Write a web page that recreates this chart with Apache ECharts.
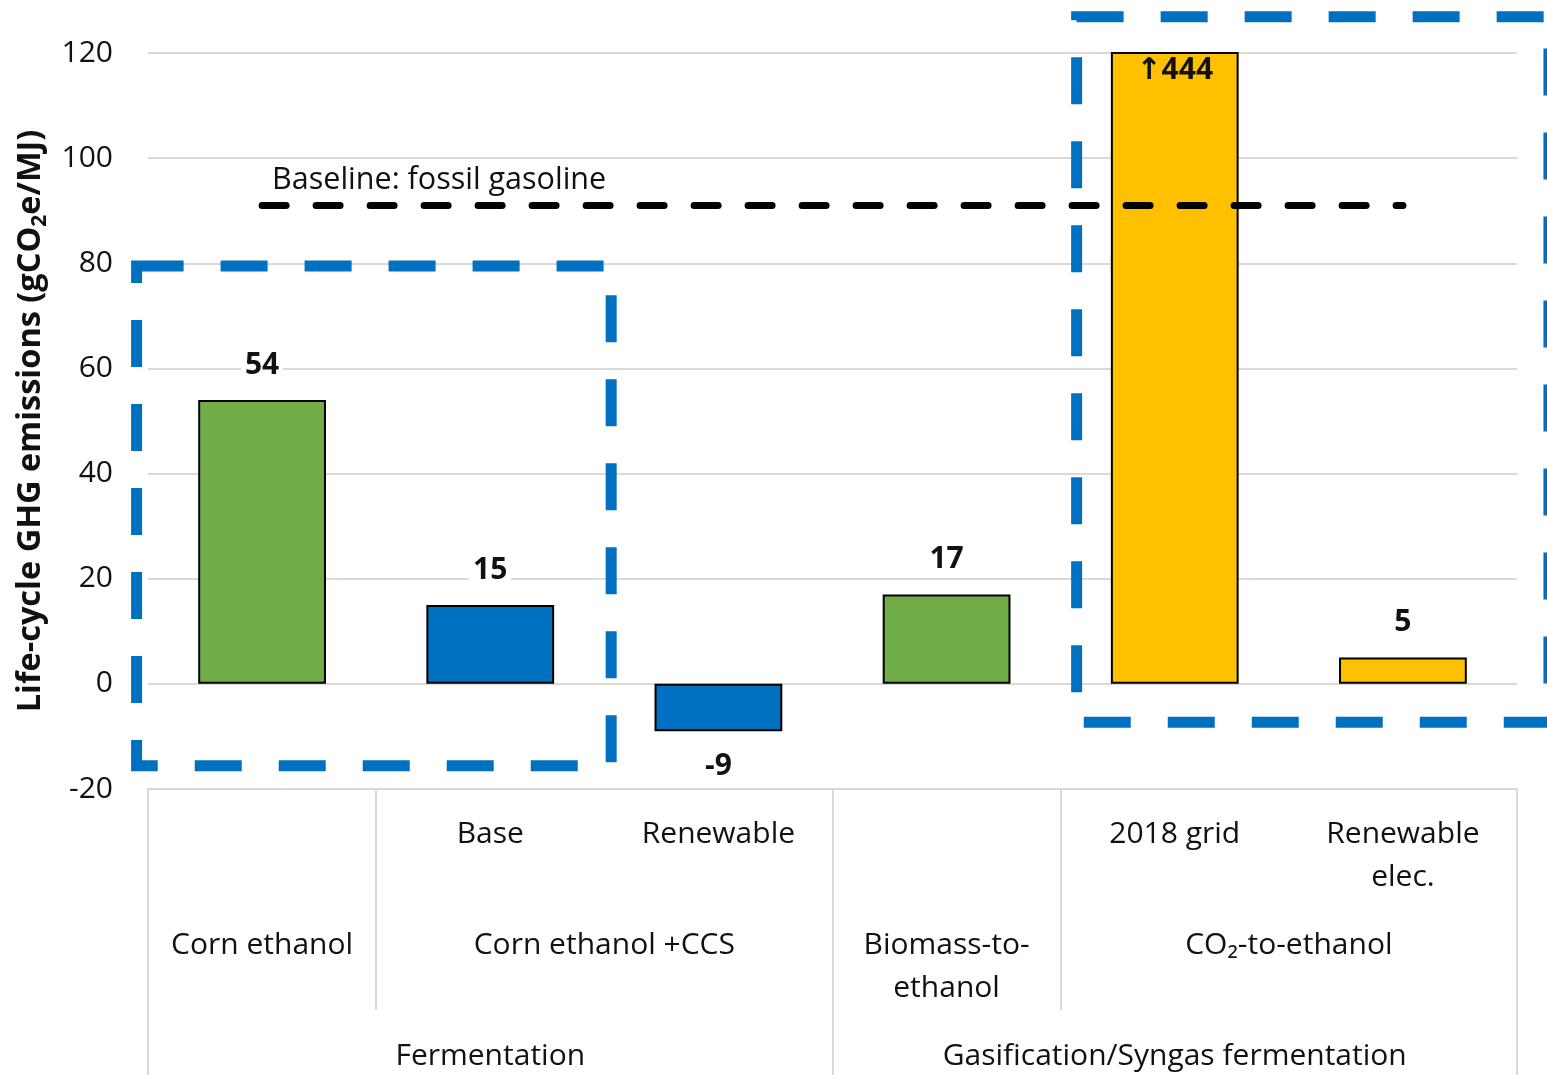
<!DOCTYPE html>
<html>
<head>
<meta charset="utf-8">
<script src="https://cdn.jsdelivr.net/npm/echarts@6/dist/echarts.min.js"></script>
<style>
  html, body { margin: 0; padding: 0; background: #fff; }
  #chart { width: 1547px; height: 1075px; }
</style>
</head>
<body>
<div id="chart"></div>
<script>
// Life-cycle GHG emissions of ethanol pathways (gCO2e/MJ)
const variantLabels = ['', 'Base', 'Renewable', '', '2018 grid', 'Renewable\nelec.'];
const emissions = [54, 15, -9, 17, 444, 5];
const pathwayLabels = ['Corn ethanol', 'Corn ethanol +CCS', 'Biomass-to-\nethanol', 'CO\u2082-to-ethanol'];
const pathwaySpans = [1, 2, 1, 2];
const routeLabels = ['Fermentation', 'Gasification/Syngas fermentation'];
const routeSpans = [3, 3];
const baselineValue = 91;
const baselineLabel = 'Baseline: fossil gasoline';
const yMin = -20, yMax = 120, yStep = 20;

// Bar fill per pathway family
const barColors = ['#70AD47', '#0070C0', '#0070C0', '#70AD47', '#FFC000', '#FFC000'];

const FONT = '"Open Sans", "DejaVu Sans", sans-serif';
const TEXT = '#111';
const GRIDLINE = '#d9d9d9';

// Lay a grouped level out on a half-category grid (boundaryGap false):
// labels sit at the middle of their span, boundaries at even slots.
function spanLevel(labels, spans) {
  const total = spans.reduce((a, b) => a + b, 0);
  const slots = new Array(total * 2 + 1).fill('');
  const bounds = new Set([0]);
  let start = 0;
  labels.forEach((l, i) => {
    slots[start * 2 + spans[i]] = l;
    start += spans[i];
    bounds.add(start * 2);
  });
  return { slots, bounds };
}
const pathwayLevel = spanLevel(pathwayLabels, pathwaySpans);
const routeLevel = spanLevel(routeLabels, routeSpans);
const shortSeparators = new Set([...pathwayLevel.bounds].filter(b => !routeLevel.bounds.has(b)));

const baseLabel = {
  fontFamily: FONT, fontSize: 30, color: TEXT, lineHeight: 43
};

function groupAxis(level, margin, tickSet, tickLen) {
  return {
    type: 'category',
    gridIndex: 0,
    position: 'bottom',
    boundaryGap: false,
    data: level.slots.map((_, i) => 'slot' + i),
    axisLine: { show: false, onZero: false },
    axisTick: {
      show: true,
      length: tickLen,
      interval: (idx) => tickSet.has(idx),
      lineStyle: { color: GRIDLINE, width: 2 }
    },
    axisLabel: Object.assign({}, baseLabel, {
      interval: 0,
      margin: margin,
      formatter: (v, i) => level.slots[i]
    }),
    splitLine: { show: false }
  };
}

const chart = echarts.init(document.getElementById('chart'), null, { renderer: 'canvas' });

const option = {
  backgroundColor: '#fff',
  animation: false,
  grid: {
    left: 148, right: 30, top: 53, bottom: 286,
    containLabel: false, outerBoundsMode: 'none'
  },
  xAxis: [
    {
      type: 'category',
      gridIndex: 0,
      position: 'bottom',
      data: variantLabels.map((_, i) => 'cat' + i),
      axisLine: { show: true, onZero: false, lineStyle: { color: GRIDLINE, width: 2 } },
      axisTick: { show: false },
      axisLabel: Object.assign({}, baseLabel, {
        interval: 0,
        margin: 24,
        formatter: (v, i) => variantLabels[i]
      }),
      splitLine: { show: false }
    },
    groupAxis(pathwayLevel, 135, shortSeparators, 221),
    groupAxis(routeLevel, 246, routeLevel.bounds, 286)
  ],
  yAxis: {
    type: 'value',
    min: yMin, max: yMax, interval: yStep,
    name: '{t|Life-cycle GHG emissions (gCO}{s|2}{t|e/MJ)}',
    nameLocation: 'middle',
    nameGap: 96,
    nameRotate: 90,
    nameTextStyle: {
      rich: {
        t: { fontFamily: FONT, fontSize: 32.5, fontWeight: 'bold', color: TEXT, lineHeight: 40 },
        s: { fontFamily: FONT, fontSize: 21, fontWeight: 'bold', color: TEXT, lineHeight: 30, verticalAlign: 'bottom' }
      }
    },
    axisLine: { show: false },
    axisTick: { show: false },
    axisLabel: { fontFamily: FONT, fontSize: 30, color: TEXT, margin: 35 },
    splitLine: { show: true, lineStyle: { color: GRIDLINE, width: 2 } }
  },
  series: [{
    type: 'bar',
    xAxisIndex: 0,
    barWidth: '56%',
    clip: true,
    data: emissions.map((v, i) => ({
      value: v,
      itemStyle: { color: barColors[i] },
      label: v > yMax
        ? { position: 'insideTop', distance: 3, formatter: '\u2191{c}', backgroundColor: 'transparent', padding: 0 }
        : { position: v >= 0 ? 'top' : 'bottom' }
    })),
    itemStyle: { borderColor: '#000', borderWidth: 2 },
    label: {
      show: true,
      fontFamily: FONT, fontSize: 30, fontWeight: 'bold', color: TEXT,
      distance: 20,
      backgroundColor: '#fff',
      padding: [0, 4]
    },
    markLine: {
      silent: true,
      symbol: ['none', 'none'],
      lineStyle: { color: '#000', width: 7, type: [24, 30], cap: 'round' },
      label: {
        show: true,
        position: 'insideStartTop',
        distance: [10, 10],
        formatter: baselineLabel,
        fontFamily: FONT, fontSize: 30.5, color: TEXT
      },
      data: [[{ coord: ['cat0', baselineValue] }, { coord: ['cat5', baselineValue] }]]
    }
  }]
};

chart.setOption(option);

// Dashed outlines grouping the CCS comparison and the CO2-to-ethanol pair.
// Corners are given in category units (x) and axis values (y).
const x0 = chart.convertToPixel({ xAxisIndex: 0 }, 'cat0');
const band = chart.convertToPixel({ xAxisIndex: 0 }, 'cat1') - x0;
const gridLeft = x0 - band / 2;
const toPx = (u, v) => [gridLeft + u * band, chart.convertToPixel({ yAxisIndex: 0 }, v)];
function outline(u1, v1, u2, v2) {
  const a = toPx(u1, v1), b = toPx(u2, v2);
  return {
    type: 'rect',
    z: 100,
    silent: true,
    shape: { x: a[0], y: a[1], width: b[0] - a[0], height: b[1] - a[1] },
    style: { fill: null, stroke: '#0070C0', lineWidth: 11, lineDash: [47, 37] }
  };
}
chart.setOption({
  graphic: [
    outline(-0.05, 79.5, 2.03, -15.6),
    outline(4.07, 126.9, 6.14, -7.3)
  ]
});
</script>
</body>
</html>
